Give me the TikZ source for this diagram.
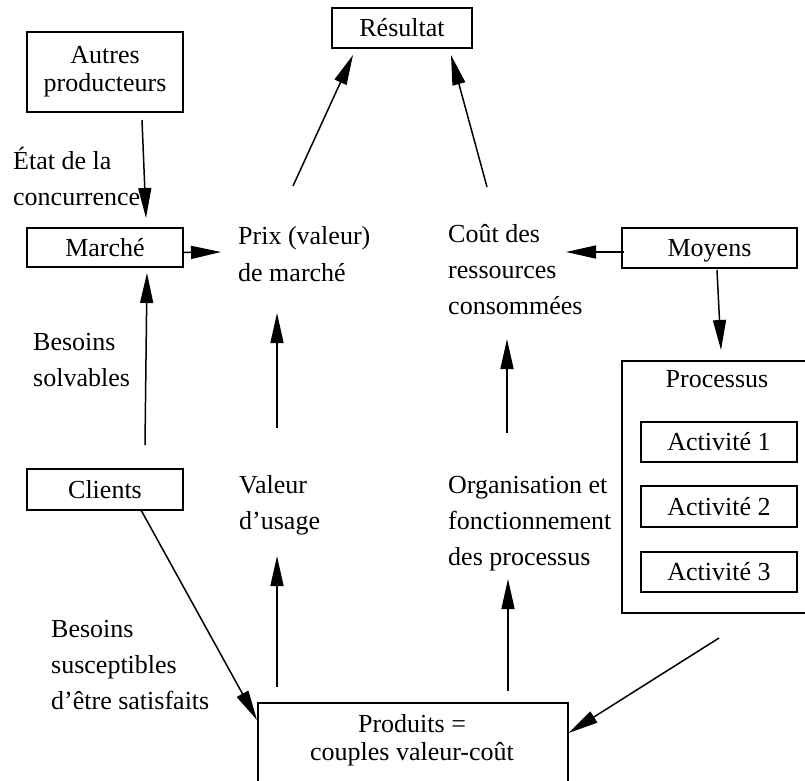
\documentclass[tikz,border=0pt]{standalone}
\usepackage{fontspec}
\setmainfont{Liberation Serif}
\usetikzlibrary{arrows.meta}
\begin{document}
\begin{tikzpicture}[x=1pt,y=-1pt,
  every node/.style={font=\fontsize{26}{28}\selectfont},
  box/.style={draw,line width=1.5pt,inner sep=0pt,text height=17pt,text depth=0pt},
  bigbox/.style={draw,line width=1.5pt,inner sep=0pt,anchor=north west},
  lbl/.style={anchor=base west,inner sep=0pt},
  arr/.style={line width=1.5pt,-{Triangle[length=30pt,width=13pt]}}]
\useasboundingbox (0,0) rectangle (805,780);
\clip (0,0) rectangle (805,780);
% boxes
\node[box,minimum width=140pt,minimum height=40pt] (resultat) at (402,28) {Résultat};
\node[draw,line width=1.5pt,inner sep=0pt,align=center,minimum width=156pt,minimum height=80pt] (autres) at (105,72) {Autres\\producteurs};
\node[box,minimum width=156pt,minimum height=39pt] (marche) at (105,247.5) {Marché};
\node[box,minimum width=175pt,minimum height=40pt] (moyens) at (709.5,248) {Moyens};
\node[bigbox,minimum width=195pt,minimum height=252pt] (proc) at (621,360) {};
\node[anchor=base,inner sep=0pt] (proctitle) at (717,387) {Processus};
\node[box,minimum width=156pt,minimum height=40pt] (act1) at (719,442) {Activité 1};
\node[box,minimum width=156pt,minimum height=41pt] (act2) at (719,506.5) {Activité 2};
\node[box,minimum width=156pt,minimum height=40pt] (act3) at (719,572) {Activité 3};
\node[box,minimum width=156pt,minimum height=41pt] (clients) at (105,489.5) {Clients};
\node[bigbox,minimum width=310pt,minimum height=100pt] (produits) at (257,702) {};
\node[anchor=base,inner sep=0pt] (prod1) at (412,732) {Produits =};
\node[anchor=base,inner sep=0pt] (prod2) at (412,760) {couples valeur-coût};
% labels
\node[lbl] (etat1) at (13,169) {État de la};
\node[lbl] (etat2) at (13,205) {concurrence};
\node[lbl] (prix1) at (238,244) {Prix (valeur)};
\node[lbl] (prix2) at (238,281) {de marché};
\node[lbl] (cout1) at (448,242) {Coût des};
\node[lbl] (cout2) at (448,278) {ressources};
\node[lbl] (cout3) at (448,314) {consommées};
\node[lbl] (besA1) at (33,350) {Besoins};
\node[lbl] (besA2) at (33,386) {solvables};
\node[lbl] (val1) at (239,493) {Valeur};
\node[lbl] (val2) at (239,529) {d’usage};
\node[lbl] (org1) at (448,493) {Organisation et};
\node[lbl] (org2) at (448,529) {fonctionnement};
\node[lbl] (org3) at (448,565) {des processus};
\node[lbl] (besB1) at (51,637) {Besoins};
\node[lbl] (besB2) at (51,673) {susceptibles};
\node[lbl] (besB3) at (51,709) {d’être satisfaits};
% connector end points
\coordinate (a1s) at (142,120);
\coordinate (a1e) at (146,218);
\coordinate (a2e) at (221,252);
\coordinate (a3s) at (145,445);
\coordinate (a3e) at (147,273);
\coordinate (a4s) at (277,428);
\coordinate (a4e) at (277,313);
\coordinate (a5s) at (293,186);
\coordinate (a5e) at (353,55);
\coordinate (a6s) at (487,187);
\coordinate (a6e) at (451,55);
\coordinate (a7s) at (624,252);
\coordinate (a7e) at (566,252);
\coordinate (a8s) at (717,270);
\coordinate (a8e) at (721,350);
\coordinate (a9s) at (507,433);
\coordinate (a9e) at (507,339);
\coordinate (a10s) at (141,510);
\coordinate (a11s) at (719,638);
\coordinate (a12s) at (277,687);
\coordinate (a12e) at (277,556);
\coordinate (a13s) at (508,691);
\coordinate (a13e) at (508,579);
% connectors
\draw[arr] (a1s) -- (a1e);
\draw[arr] ([yshift=-5pt]marche.east) -- (a2e);
\draw[arr] (a3s) -- (a3e);
\draw[arr] (a4s) -- (a4e);
\draw[arr] (a5s) -- (a5e);
\draw[arr] (a6s) -- (a6e);
\draw[arr] (a7s) -- (a7e);
\draw[arr] (a8s) -- (a8e);
\draw[arr] (a9s) -- (a9e);
\draw[arr] (a10s) -- ([yshift=-18pt]produits.north west);
\draw[arr] (a11s) -- ([yshift=-31pt]produits.north east);
\draw[arr] (a12s) -- (a12e);
\draw[arr] (a13s) -- (a13e);
\end{tikzpicture}
\end{document}
